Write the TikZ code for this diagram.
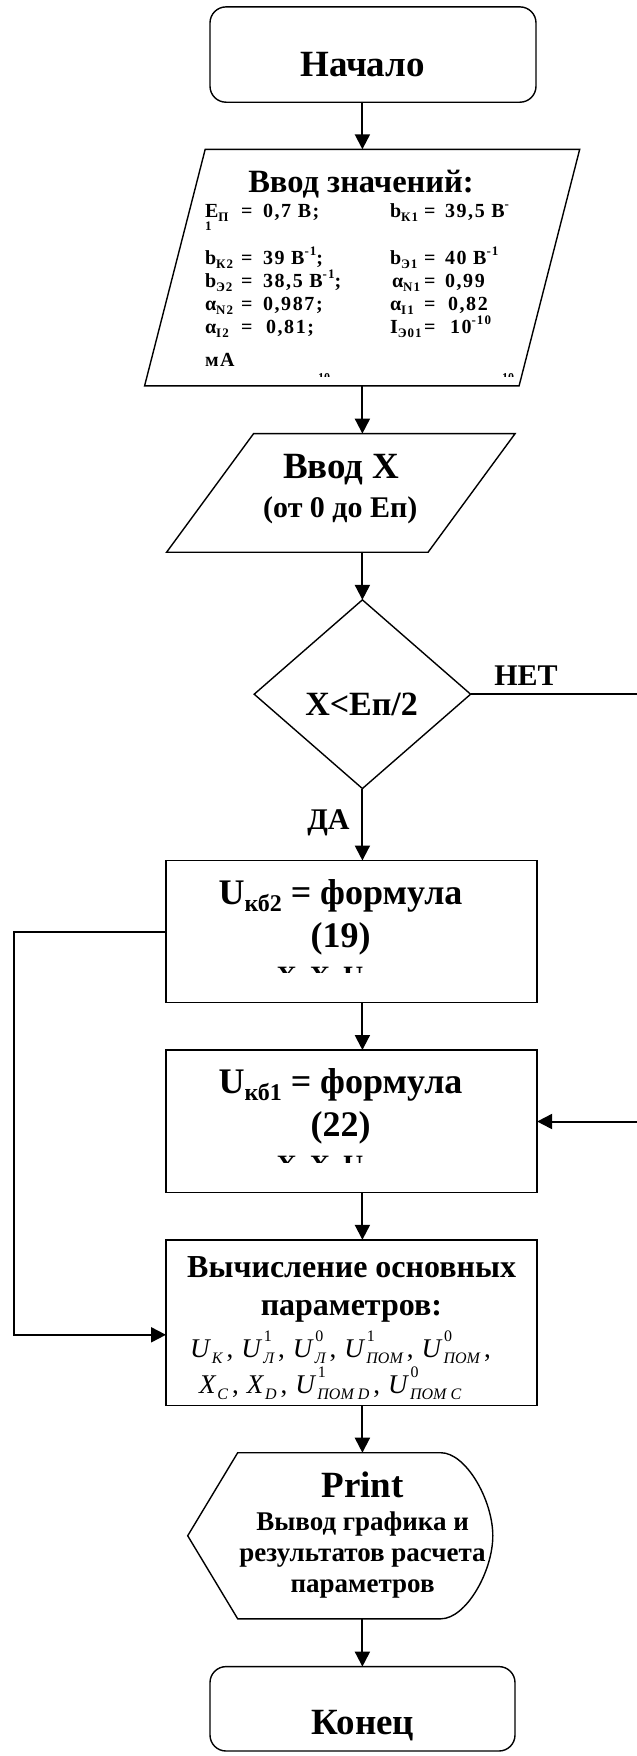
\documentclass[tikz,border=0pt]{standalone}
\usepackage{fontspec}
\setmainfont{Liberation Serif}
\newfontfamily\rowfont{Liberation Serif}[LetterSpace=8]
\usetikzlibrary{shapes.geometric,arrows.meta,calc}

\newcommand\fs[1]{\fontsize{#1}{#1}\selectfont}
% small sub- and superscripts for the input block
\newcommand\sbs[1]{\raisebox{-0.2em}{\fs{13}#1}}
\newcommand\sps[1]{\raisebox{0.45em}{\fs{13}#1}}
% one "name = value" entry, left and right column
\newcommand\parL[2]{\makebox[36pt][l]{#1}\makebox[22pt][l]{=}#2}
\newcommand\parR[2]{\makebox[34pt][l]{#1}\makebox[21pt][l]{=}#2}
% italic symbol with superscript and subscript
\newcommand\uu[3]{\textit{#1}\rlap{\raisebox{0.56em}{\fs{16}\hspace{1.5pt}#2}}\raisebox{-0.25em}{\fs{16}\itshape\hspace{1pt}#3}}
\newcommand\sep{\hspace{4pt},\hspace{8pt}}

\tikzset{
  shp/.style={draw=none, inner sep=0pt, outer sep=0pt},
  outline/.style={line width=1.4pt, line join=miter},
  conn/.style={line width=2pt, -{Triangle[length=15pt,width=15pt]}},
  txt/.style={inner sep=0pt, outer sep=0pt, anchor=base, font=\bfseries},
}

\begin{document}
\begin{tikzpicture}[x=1pt, y=-1pt]
\useasboundingbox (0,0) rectangle (637,1756);
\clip (0,0) rectangle (637,1756);
\fill[white] (0,0) rectangle (637,1756);

\coordinate (ax) at (362.4,0);

% --- shapes ---
\node[outline, draw, rounded corners=16pt, inner sep=0pt, outer sep=0pt,
      minimum width=326pt, minimum height=95.3pt] (start) at (373,54.55) {};

\node[shp, minimum width=435.1pt, minimum height=236.5pt] (in1) at (362.15,267.55) {};
\draw[outline] (in1.south west) -- ($(in1.north west)+(60.6,0)$) -- (in1.north east)
  -- ($(in1.south east)+(-60.6,0)$) -- cycle;

\node[shp, minimum width=348.5pt, minimum height=118.6pt] (in2) at (340.85,492.9) {};
\draw[outline] (in2.south west) -- ($(in2.north west)+(87,0)$) -- (in2.north east)
  -- ($(in2.south east)+(-87,0)$) -- cycle;

\node[outline, draw, diamond, inner sep=0pt, outer sep=0pt,
      minimum width=216.4pt, minimum height=188.7pt] (dec) at (362.4,694.2) {};

\node[outline, draw, inner sep=0pt, outer sep=0pt,
      minimum width=371.1pt, minimum height=142pt] (b1) at (351.55,931.5) {};
\node[outline, draw, inner sep=0pt, outer sep=0pt,
      minimum width=371.1pt, minimum height=142.3pt] (b2) at (351.55,1121.15) {};
\node[outline, draw, inner sep=0pt, outer sep=0pt,
      minimum width=371.1pt, minimum height=165.4pt] (b3) at (351.55,1322.5) {};

\node[shp, minimum width=305.1pt, minimum height=166.1pt] (pr) at (340.25,1535.75) {};
\draw[outline] (pr.west) -- ($(pr.north west)+(50,0)$) -- ($(pr.north east)+(-52,0)$)
  .. controls ($(pr.north east)+(-27,0)$) and ($(pr.east)+(0,-36)$) .. (pr.east)
  .. controls ($(pr.east)+(0,36)$) and ($(pr.south east)+(-27,0)$) .. ($(pr.south east)+(-52,0)$)
  -- ($(pr.south west)+(50,0)$) -- cycle;

\node[outline, draw, rounded corners=16pt, inner sep=0pt, outer sep=0pt,
      minimum width=305pt, minimum height=84.4pt] (end) at (362.5,1708.8) {};

% --- texts ---
\node[txt, font=\bfseries\fs{37}] (tstart) at (362.6,76.5) {Начало};

\node[txt, font=\bfseries\fs{32.5}] (tin1) at (361,192) {Ввод значений:};
\begin{scope}[every node/.style={inner sep=0pt, outer sep=0pt, anchor=base west, font=\rowfont\bfseries\fs{20}}]
  \node (pa1) at (205,217) {\parL{E\sbs{П}}{0,7 В;}};
  \node (pb1) at (390,217) {\parR{b\sbs{К1}}{39,5 В\sps{-}}};
  \node[font=\rowfont\bfseries\fs{13}] (pwrap) at (205,230) {1};
  \node (pa2) at (205,264) {\parL{b\sbs{К2}}{39 В\sps{-1};}};
  \node (pb2) at (390,264) {\parR{b\sbs{Э1}}{40 В\sps{-1}}};
  \node (pa3) at (205,287) {\parL{b\sbs{Э2}}{38,5 В\sps{-1};}};
  \node (pb3) at (390,287) {\parR{\hspace{2pt}α\sbs{N1}}{0,99}};
  \node (pa4) at (205,310) {\parL{α\sbs{N2}}{0,987;}};
  \node (pb4) at (390,310) {\parR{α\sbs{I1}}{\hspace{3pt}0,82}};
  \node (pa5) at (205,333.3) {\parL{α\sbs{I2}}{\hspace{3pt}0,81;}};
  \node (pb5) at (390,333.3) {\parR{I\sbs{Э01}}{\hspace{5pt}10\sps{-10}}};
  \node (punit) at (205,366.7) {мА};
\end{scope}
\begin{scope}
  \clip (300,370) rectangle (520,376.5);
  \node[inner sep=0pt, anchor=north west, font=\bfseries\fs{12}] (cut1) at (314,373) {-10};
  \node[inner sep=0pt, anchor=north west, font=\bfseries\fs{12}] (cut2) at (498,373) {-10};
\end{scope}

\node[txt, font=\bfseries\fs{37}] (tin2a) at (341.3,478.4) {Ввод X};
\node[txt, font=\bfseries\fs{30}] (tin2b) at (340.3,517) {(от 0 до Еп)};

\node[txt, font=\bfseries\fs{34}] (tdec) at (361.6,715.9) {X<Eп/2};
\node[txt, font=\bfseries\fs{30}] (tno) at (526,685) {НЕТ};
\node[txt, font=\bfseries\fs{30}] (tyes) at (328.5,829) {ДА};

\node[txt, font=\bfseries\fs{36}] (tb1a) at (340.5,904) {U\raisebox{-0.2em}{\fs{24}кб2} = формула};
\node[txt, font=\bfseries\fs{36}] (tb1b) at (340.6,947) {(19)};
\begin{scope}
  \clip (240,960) rectangle (400,972.5);
  \node[inner sep=0pt, anchor=north, font=\bfseries\fs{28}] (cut3) at (320,966.7) {X,\hspace{6pt}X,\hspace{6pt}U};
\end{scope}

\node[txt, font=\bfseries\fs{36}] (tb2a) at (340.5,1093.5) {U\raisebox{-0.2em}{\fs{24}кб1} = формула};
\node[txt, font=\bfseries\fs{36}] (tb2b) at (340.6,1136.5) {(22)};
\begin{scope}
  \clip (240,1150) rectangle (400,1162);
  \node[inner sep=0pt, anchor=north, font=\bfseries\fs{28}] (cut4) at (320,1156.2) {X,\hspace{6pt}X,\hspace{6pt}U};
\end{scope}

\node[txt, font=\bfseries\fs{32}] (tb3a) at (351.6,1277) {Вычисление основных};
\node[txt, font=\bfseries\fs{32}] (tb3b) at (351.4,1315) {параметров:};
\node[inner sep=0pt, outer sep=0pt, anchor=base west, font=\fs{27}] (tb3c) at (190,1357)
  {\uu{U}{}{K}\sep\uu{U}{1}{Л}\sep\uu{U}{0}{Л}\sep\uu{U}{1}{ПОМ}\sep\uu{U}{0}{ПОМ}\hspace{4pt},};
\node[inner sep=0pt, outer sep=0pt, anchor=base west, font=\fs{27}] (tb3d) at (199,1393)
  {\uu{X}{}{C}\sep\uu{X}{}{D}\sep\uu{U}{1}{ПОМ D}\sep\uu{U}{0}{ПОМ C}};

\node[txt, font=\bfseries\fs{37}] (tpr) at (362.6,1497.5) {Print};
\node[txt, font=\bfseries\fs{27}] (tpr1) at (362.6,1530.5) {Вывод графика и};
\node[txt, font=\bfseries\fs{27}] (tpr2) at (362.6,1561) {результатов расчета};
\node[txt, font=\bfseries\fs{27}] (tpr3) at (362.6,1592.5) {параметров};

\node[txt, font=\bfseries\fs{37}] (tend) at (363,1734) {Конец};

% --- connectors ---
\draw[conn] (start.south -| ax) -- (in1.north -| ax);
\draw[conn] (in1.south -| ax) -- (in2.north -| ax);
\draw[conn] (in2.south -| ax) -- (dec.north);
\draw[conn] (dec.south) -- (b1.north -| ax);
\draw[conn] (b1.south -| ax) -- (b2.north -| ax);
\draw[conn] (b2.south -| ax) -- (b3.north -| ax);
\draw[conn] (b3.south -| ax) -- (pr.north -| ax);
\draw[conn] (pr.south -| ax) -- (end.north -| ax);

\coordinate (nocorner) at (645,1121.5);
\draw[conn] (dec.east) -| (nocorner) -- (b2.east |- nocorner);

\coordinate (loopcorner) at (14.2,1334.8);
\draw[conn] (b1.west) -| (loopcorner) -- (b3.west |- loopcorner);
\end{tikzpicture}
\end{document}
